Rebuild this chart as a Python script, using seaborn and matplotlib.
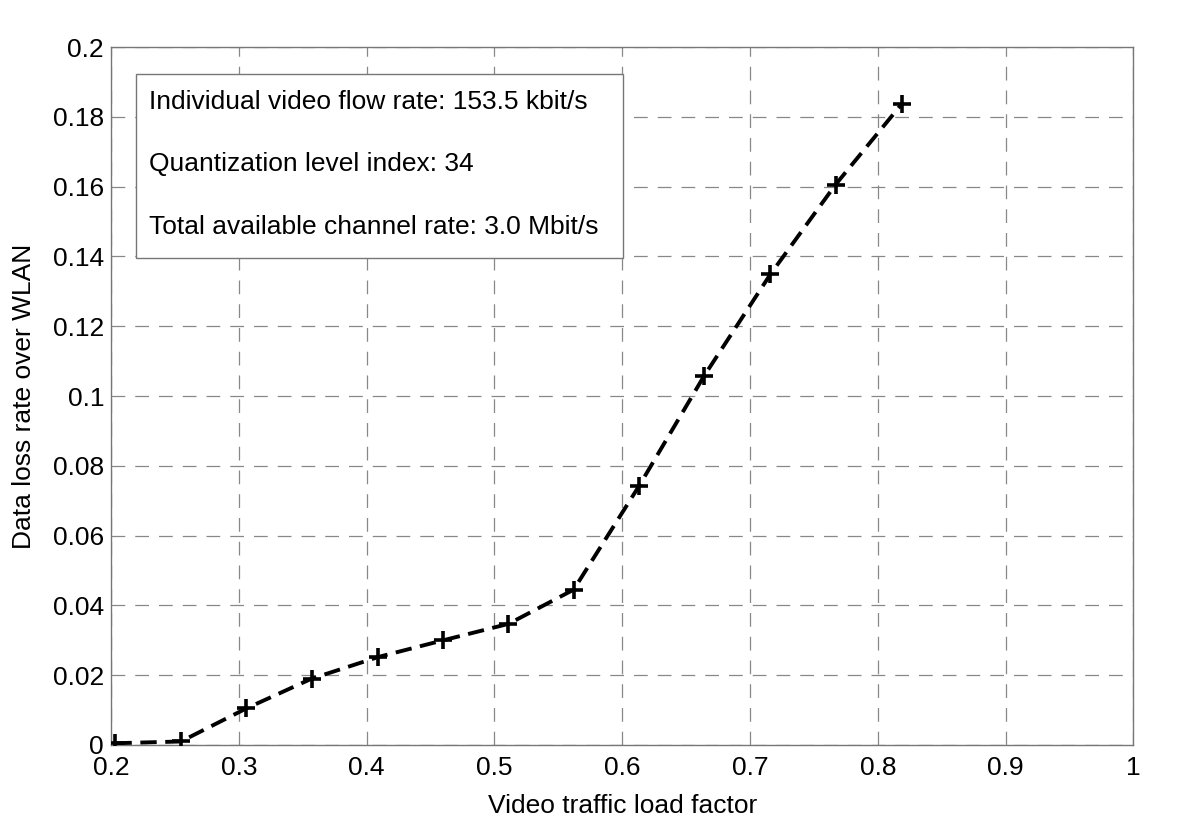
import matplotlib
matplotlib.use('Agg')
import matplotlib.pyplot as plt
import seaborn as sns
import pandas as pd

sns.set_theme(style="white")
plt.rcParams['font.family'] = ['Liberation Sans', 'DejaVu Sans']
plt.rcParams['text.color'] = 'black'
plt.rcParams['axes.labelcolor'] = 'black'
plt.rcParams['xtick.color'] = 'black'
plt.rcParams['ytick.color'] = 'black'

load_factor = [0.2035, 0.2547, 0.306, 0.357, 0.409, 0.460, 0.511, 0.562,
               0.613, 0.664, 0.716, 0.767, 0.819]
loss_rate = [0.0005, 0.001, 0.0105, 0.019, 0.0252, 0.0300, 0.0347, 0.0445,
             0.0741, 0.1057, 0.1349, 0.1606, 0.1838]
x_ticks = [0.2, 0.3, 0.4, 0.5, 0.6, 0.7, 0.8, 0.9, 1.0]
x_tick_labels = ['0.2', '0.3', '0.4', '0.5', '0.6', '0.7', '0.8', '0.9', '1']
y_ticks = [0, 0.02, 0.04, 0.06, 0.08, 0.1, 0.12, 0.14, 0.16, 0.18, 0.2]
y_tick_labels = ['0', '0.02', '0.04', '0.06', '0.08', '0.1', '0.12', '0.14',
                 '0.16', '0.18', '0.2']
info_lines = ['Individual video flow rate: 153.5 kbit/s',
              'Quantization level index: 34',
              'Total available channel rate: 3.0 Mbit/s']

df = pd.DataFrame({'load': load_factor, 'loss': loss_rate})

fig = plt.figure(figsize=(12, 8.25), dpi=100)
ax = fig.add_axes([0.0925, 0.097, 0.852, 0.846])

sns.lineplot(data=df, x='load', y='loss', ax=ax, color='black',
             linestyle=(0, (4.2, 2.2)), linewidth=2.8, zorder=3)
ax.plot(df['load'], df['loss'], linestyle='none', marker='+', color='black',
        markersize=13, markeredgewidth=2.6, zorder=4)

ax.set_xlim(0.2, 1.0)
ax.set_ylim(0, 0.2)
ax.set_xticks(x_ticks)
ax.set_xticklabels(x_tick_labels)
ax.set_yticks(y_ticks)
ax.set_yticklabels(y_tick_labels)
ax.tick_params(axis='both', labelsize=19, direction='in', length=6,
               color='#777777')
ax.tick_params(axis='x', pad=8)
ax.tick_params(axis='y', pad=5)
ax.grid(True, color='#888888', linestyle=(0, (11, 8)), linewidth=0.9)
for sp in ax.spines.values():
    sp.set_color('#777777')
    sp.set_linewidth(1.0)

ax.set_xlabel('Video traffic load factor', fontsize=19, labelpad=10)
ax.set_ylabel('Data loss rate over WLAN', fontsize=19, labelpad=12)

# info box
ax.add_patch(plt.Rectangle((0.0245, 0.6977), 0.476, 0.2633,
                           transform=ax.transAxes, facecolor='white',
                           edgecolor='#777777', linewidth=1.0, zorder=2))
for i, line in enumerate(info_lines):
    ax.text(0.0375, 0.9215 - i * 0.0895, line, transform=ax.transAxes,
            fontsize=19, va='center', ha='left', zorder=5)

fig.savefig('out.png', dpi=100)
